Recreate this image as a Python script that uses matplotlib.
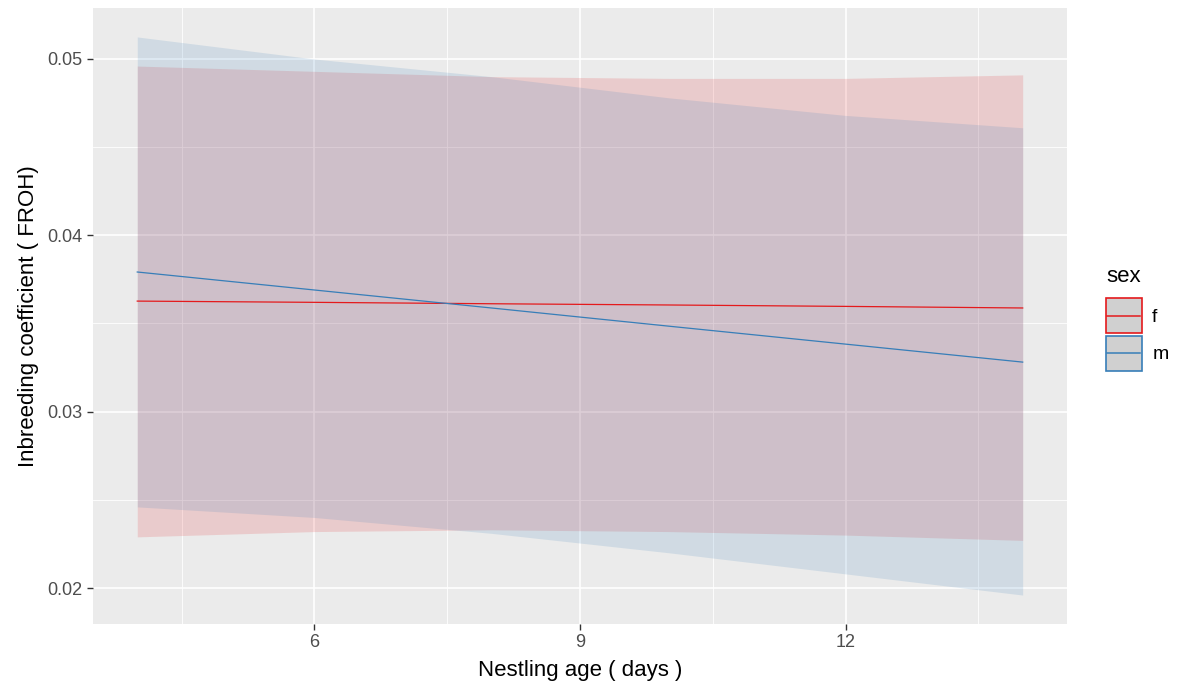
import matplotlib
matplotlib.use("Agg")
import matplotlib.pyplot as plt
from matplotlib.patches import Patch
from matplotlib.lines import Line2D
from matplotlib.legend_handler import HandlerTuple, HandlerBase

plt.rcParams['font.family'] = ['Liberation Sans', 'DejaVu Sans']

# Data
age = [4, 6, 8, 10, 12, 14]
f_fit = [0.03627, 0.03620, 0.03612, 0.03605, 0.03597, 0.03588]
f_low = [0.0229, 0.0232, 0.0233, 0.0232, 0.0230, 0.0227]
f_high = [0.0496, 0.0493, 0.0490, 0.0489, 0.0489, 0.0491]
m_fit = [0.03792, 0.03690, 0.03588, 0.03485, 0.03383, 0.03281]
m_low = [0.0246, 0.0240, 0.0231, 0.0220, 0.0208, 0.0196]
m_high = [0.05125, 0.0500, 0.0490, 0.0478, 0.0468, 0.0461]
sexes = ['f', 'm']
colors = {'f': '#E41A1C', 'm': '#377EB8'}
x_ticks = [6, 9, 12]
y_ticks = [0.02, 0.03, 0.04, 0.05]

series = {'f': (f_fit, f_low, f_high), 'm': (m_fit, m_low, m_high)}


class CenterLine(HandlerBase):
    def create_artists(self, legend, orig_handle, xdescent, ydescent,
                       width, height, fontsize, trans):
        y = height / 2 - ydescent
        ln = Line2D([-xdescent + 1, -xdescent + width - 2], [y, y],
                    color=orig_handle.get_color(),
                    linewidth=orig_handle.get_linewidth(), transform=trans)
        return [ln]


fig = plt.figure(figsize=(11.8, 6.92), dpi=100)
ax = fig.add_axes([0.0788, 0.0983, 0.8254, 0.8901])
ax.set_facecolor('#EBEBEB')

for s in sexes:
    fit, lo, hi = series[s]
    ax.fill_between(age, lo, hi, color=colors[s], alpha=0.15, linewidth=0, zorder=2)
for s in sexes:
    fit, lo, hi = series[s]
    ax.plot(age, fit, color=colors[s], linewidth=0.9, zorder=3)

ax.set_xlim(3.5, 14.5)
ax.set_ylim(0.01796, 0.05289)
ax.set_xticks(x_ticks)
ax.set_xticklabels([str(t) for t in x_ticks])
ax.set_yticks(y_ticks)
ax.set_yticklabels([f"{t:.2f}" for t in y_ticks])
ax.set_xticks([4.5, 7.5, 10.5, 13.5], minor=True)
ax.set_yticks([0.025, 0.035, 0.045], minor=True)
ax.grid(True, which='major', color='white', linewidth=1.2, zorder=1)
ax.grid(True, which='minor', color='white', linewidth=0.6, zorder=1)
ax.set_axisbelow(True)
for sp in ax.spines.values():
    sp.set_visible(False)
ax.tick_params(which='major', length=4, color='#333333', labelcolor='#4D4D4D',
               labelsize=13, width=1)
ax.tick_params(which='minor', length=0)

ax.set_xlabel('Nestling age ( days )', fontsize=16, color='black', labelpad=6)
ax.set_ylabel('Inbreeding coefficient ( FROH)', fontsize=16, color='black', labelpad=6)

handles = []
for s in sexes:
    p = Patch(facecolor='#D0D0D0', edgecolor=colors[s], linewidth=1.2)
    l = Line2D([0], [0], color=colors[s], linewidth=1.1)
    handles.append((p, l))
leg = fig.legend(handles, sexes, title='sex', loc='center left',
                 bbox_to_anchor=(0.929, 0.54), frameon=False, fontsize=14,
                 title_fontsize=16, handlelength=1.88, handleheight=2.4,
                 handletextpad=0.5, labelspacing=0.12, borderpad=0,
                 handler_map={tuple: HandlerTuple(ndivide=1, pad=0),
                              Line2D: CenterLine()})
leg._legend_box.align = 'left'
leg._legend_box.sep = 8

fig.savefig('out.png', dpi=100)
